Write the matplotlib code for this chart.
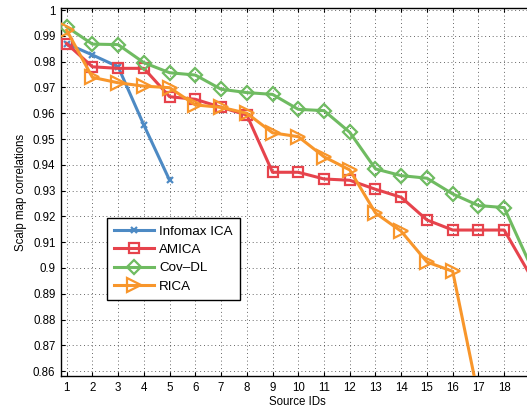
import matplotlib
matplotlib.use("Agg")
import matplotlib.pyplot as plt
import numpy as np

plt.rcParams['font.family'] = ['Liberation Sans', 'DejaVu Sans']

source_ids = list(range(1, 20))
infomax_x = [1, 2, 3, 4, 5]
infomax = [0.987, 0.9826, 0.978, 0.9554, 0.934]
amica = [0.987, 0.978, 0.9774, 0.9774, 0.9664, 0.9654, 0.9623, 0.9593, 0.9371, 0.9371,
         0.9345, 0.934, 0.9305, 0.9274, 0.9186, 0.9147, 0.9147, 0.9147, 0.8974]
covdl = [0.9935, 0.9868, 0.9866, 0.9796, 0.9757, 0.9748, 0.9693, 0.968, 0.9673, 0.9615,
         0.961, 0.9526, 0.9384, 0.9358, 0.9348, 0.9287, 0.9242, 0.9234, 0.9015]
rica_x = list(range(1, 18))
rica = [0.9922, 0.9739, 0.9718, 0.9705, 0.9699, 0.9632, 0.9623, 0.96, 0.9524, 0.9509,
        0.9431, 0.938, 0.9213, 0.9142, 0.9023, 0.8987, 0.85]
xticks = list(range(1, 19))
yticks = [0.86, 0.87, 0.88, 0.89, 0.9, 0.91, 0.92, 0.93, 0.94, 0.95, 0.96, 0.97, 0.98, 0.99, 1.0]

W, H = 527, 412
fig = plt.figure(figsize=(W / 100, H / 100), dpi=100)
left_px, right_px, top_px, bot_px = 61, 533, 8, 376
ax = fig.add_axes([left_px / W, (H - bot_px) / H, (right_px - left_px) / W, (bot_px - top_px) / H])

c_blue = '#4d8ac4'
c_red = '#e6434c'
c_green = '#6fbb61'
c_orange = '#f8962b'
lw = 2.2

ax.plot(infomax_x, infomax, color=c_blue, lw=lw, marker='x', ms=5, mew=1.6,
        label='Infomax ICA', zorder=3)
ax.plot(source_ids, amica, color=c_red, lw=lw, marker='s', ms=7, mfc='none', mew=1.6,
        markevery=slice(0, 18), label='AMICA', zorder=4)
ax.plot(source_ids, covdl, color=c_green, lw=lw, marker='D', ms=7, mfc='none', mew=1.6,
        markevery=slice(0, 18), label='Cov\u2013DL', zorder=4)
ax.plot(rica_x, rica, color=c_orange, lw=lw, marker='>', ms=10, mfc='none', mew=1.6,
        label='RICA', zorder=5)

ax.set_xlim(0.78, 19.12)
ax.set_ylim(0.8581, 1.0008)
ax.set_xticks(xticks)
ax.set_xticklabels([str(t) for t in xticks])
ax.set_yticks(yticks)
ax.set_yticklabels(['%g' % t for t in yticks])
ax.tick_params(direction='in', top=True, right=True, labelsize=8.3, length=3, width=0.8, pad=4)
ax.grid(True, linestyle=(0, (1, 3.5)), color='#333333', lw=0.6)
for s in ax.spines.values():
    s.set_linewidth(1.0)

ax.set_xlabel('Source IDs', fontsize=8.3, labelpad=2)
ax.set_ylabel('Scalp map correlations', fontsize=8.3, labelpad=4)

leg = ax.legend(loc='upper left', bbox_to_anchor=(107 / W, (H - 218) / H),
                bbox_transform=fig.transFigure, fontsize=9.6, numpoints=1,
                handlelength=3.0, handletextpad=0.35, borderpad=0.55, labelspacing=0.45,
                borderaxespad=0, fancybox=False, framealpha=1, edgecolor='black')
leg.get_frame().set_linewidth(1.0)

fig.savefig('out.png', dpi=100)
